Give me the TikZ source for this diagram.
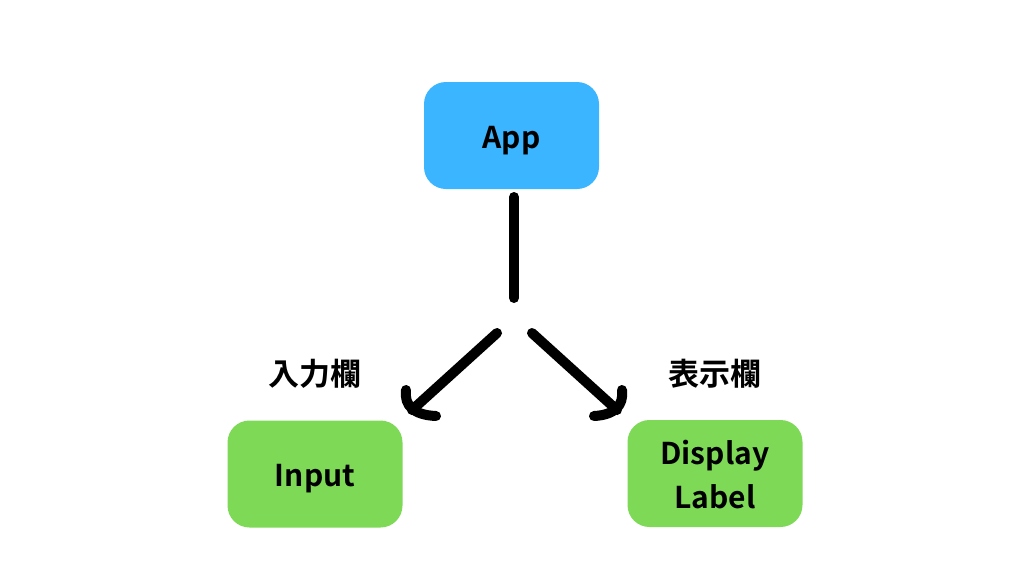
\documentclass[tikz,border=0pt]{standalone}
\usepackage{fontspec}
\setmainfont{Noto Sans CJK JP}[BoldFont={* Bold}]
\definecolor{appblue}{HTML}{3BB5FF}
\definecolor{boxgreen}{HTML}{7ED957}
\begin{document}
\begin{tikzpicture}[x=1pt,y=-1pt,
  box/.style={rounded corners=22pt, minimum width=175pt, minimum height=107pt, inner sep=0pt},
  txt/.style={font=\fontsize{30}{44}\selectfont\bfseries, align=center, inner sep=0pt},
  lbl/.style={font=\fontsize{31}{34}\selectfont\bfseries, inner sep=0pt},
  conn/.style={line width=10pt, line cap=round, line join=round}]
\useasboundingbox (0,0) rectangle (1024,576);
\node[box, fill=appblue] (app) at (511.5,135.5) {};
\node[box, fill=boxgreen] (input) at (315,474) {};
\node[box, fill=boxgreen] (disp) at (715,473.5) {};
\node[txt] (apptxt) at ([yshift=-5pt]app.center) {App};
\node[txt] (inputtxt) at ([yshift=-5pt]input.center) {Input};
\node[txt] (disptxt) at ([yshift=-1.5pt]disp.center) {Display\\Label};
\node[lbl] (linput) at (315,374) {入力欄};
\node[lbl] (ldisp) at (715,374) {表示欄};
\coordinate (vt) at (514,197);
\coordinate (vb) at (514,298);
\coordinate (ls) at (497,333);
\coordinate (lt) at (412,410);
\coordinate (rs) at (532,333);
\coordinate (rt) at (617,410);
\draw[conn] (vt) -- (vb);
\draw[conn] (ls) -- (lt);
\draw[conn] (rs) -- (rt);
\draw[conn] (406,390) .. controls (404,406) and (414,415) .. (436,416);
\draw[conn] (622,390) .. controls (624,406) and (614,415) .. (594,416);
\end{tikzpicture}
\end{document}
